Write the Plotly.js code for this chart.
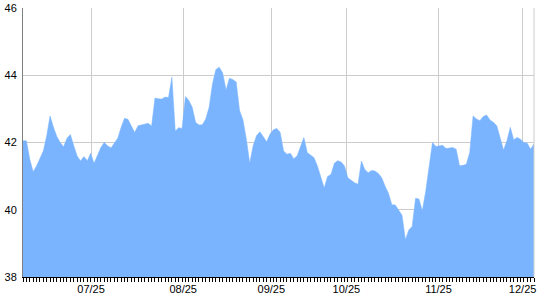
<!DOCTYPE html>
<html>
<head>
<meta charset="utf-8">
<script src="https://cdn.plot.ly/plotly-3.0.1.min.js"></script>
<style>html,body{margin:0;padding:0;background:#fff}#chart{width:540px;height:300px}</style>
</head>
<body>
<div id="chart"></div>
<script>
// One value per trading session (x = session index)
const values = [
  42.05, 42.05, 41.5, 41.13, 41.3, 41.55, 41.75, 42.2, 42.79, 42.45,
  42.18, 42.0, 41.87, 42.13, 42.24, 41.9, 41.6, 41.45, 41.58, 41.46,
  41.68, 41.38, 41.6, 41.85, 42.0, 41.9, 41.84, 42.0, 42.13, 42.45,
  42.72, 42.69, 42.5, 42.3, 42.5, 42.53, 42.56, 42.57, 42.49, 43.32,
  43.3, 43.29, 43.35, 43.34, 43.94, 42.34, 42.44, 42.42, 43.37, 43.25,
  43.05, 42.6, 42.52, 42.53, 42.7, 43.05, 43.75, 44.17, 44.24, 44.07,
  43.56, 43.91, 43.87, 43.8, 42.95, 42.67, 42.1, 41.38, 41.9, 42.2,
  42.32, 42.15, 42.02, 42.25, 42.38, 42.42, 42.3, 41.75, 41.65, 41.68,
  41.52, 41.6, 41.9, 42.15, 41.7, 41.63, 41.55, 41.3, 40.95, 40.65,
  40.99, 41.05, 41.38, 41.46, 41.42, 41.3, 40.95, 40.86, 40.8, 40.76,
  41.45, 41.2, 41.1, 41.17, 41.15, 41.08, 40.95, 40.7, 40.49, 40.15,
  40.14, 39.99, 39.84, 39.11, 39.4, 39.5, 40.34, 40.32, 39.97, 40.55,
  41.25, 42.0, 41.88, 41.9, 41.92, 41.82, 41.83, 41.85, 41.8, 41.31,
  41.32, 41.35, 41.7, 42.79, 42.7, 42.65, 42.77, 42.82, 42.67, 42.6,
  42.5, 42.1, 41.78, 42.05, 42.45, 42.08, 42.15, 42.1, 42.0, 41.98,
  41.8, 41.96
];
const sessions = values.map((_, i) => i);

// Month labels and the session index where each one falls
const tickLabels = ["07/25", "08/25", "09/25", "10/25", "11/25", "12/25"];
const tickSessions = [20.12, 47.34, 73.37, 95.56, 122.78, 147.63];

const fillColor = "rgb(122,180,255)";

const trace = {
  x: sessions,
  y: values,
  type: "scatter",
  mode: "lines",
  fill: "tozeroy",
  fillcolor: fillColor,
  line: {color: fillColor, width: 0.5},
  hoverinfo: "skip"
};

const layout = {
  width: 540,
  height: 300,
  margin: {l: 23, r: 6, t: 8, b: 23},
  paper_bgcolor: "#ffffff",
  plot_bgcolor: "#ffffff",
  showlegend: false,
  font: {family: "Liberation Sans, Arial, sans-serif", size: 11, color: "#000"},
  xaxis: {
    range: [0, sessions.length - 1],
    tickmode: "array",
    tickvals: tickSessions,
    ticktext: tickLabels,
    ticks: "",
    showgrid: true,
    gridcolor: "#cccccc",
    gridwidth: 1,
    showline: true,
    linecolor: "#000",
    linewidth: 1,
    zeroline: false,
    ticklabelstandoff: 2,
    minor: {ticks: "outside", tickmode: "linear", tick0: 0, dtick: 1, ticklen: 4, tickcolor: "#000", tickwidth: 1, showgrid: false},
    fixedrange: true
  },
  yaxis: {
    range: [38, 46],
    tickmode: "linear",
    tick0: 38,
    dtick: 2,
    ticks: "",
    showgrid: true,
    gridcolor: "#cccccc",
    gridwidth: 1,
    showline: true,
    linecolor: "#808080",
    linewidth: 1,
    zeroline: false,
    ticklabelstandoff: 3,
    fixedrange: true
  },
  shapes: [
    {type: "line", xref: "paper", yref: "paper", x0: 1, x1: 1, y0: 0, y1: 1, line: {color: "#cccccc", width: 1}, layer: "above"}
  ]
};

Plotly.newPlot("chart", [trace], layout, {staticPlot: true, displayModeBar: false});
</script>
</body>
</html>
